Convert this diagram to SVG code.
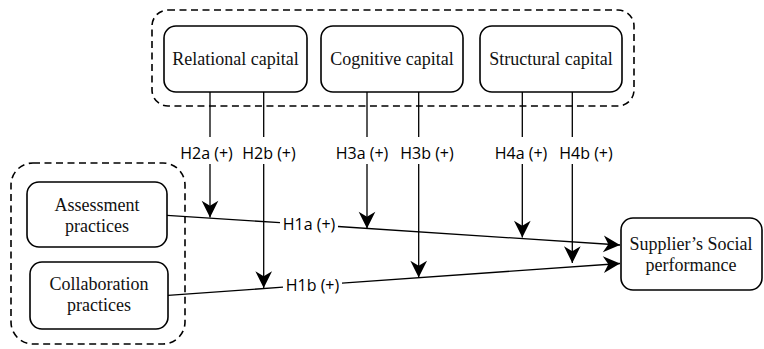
<svg xmlns="http://www.w3.org/2000/svg" width="764" height="349" viewBox="0 0 764 349">
<style>
.box{fill:#fff;stroke:#000;stroke-width:1.6}
.grp{fill:none;stroke:#000;stroke-width:1.6;stroke-dasharray:7,4.5}
.lbl{font-family:'Liberation Serif','Times New Roman','DejaVu Serif',serif;font-size:18px;fill:#111;text-anchor:middle}
.hyp{font-family:'Open Sans','Noto Sans',sans-serif;font-size:16px;fill:#000;text-anchor:middle}
.ln{fill:none;stroke:#000;stroke-width:1.3}
</style>
<defs>
<marker id="arr" markerUnits="userSpaceOnUse" markerWidth="20" markerHeight="20" viewBox="-16 -9 18 18" refX="0" refY="0" orient="auto">
<path d="M0,0 L-15,-7.5 L-10.5,0 L-15,7.5 Z" fill="#000"/>
</marker>
</defs>
<g id="group-capital"><rect class="grp" x="152" y="10" width="482" height="96" rx="16"/></g>
<g id="group-practices"><rect class="grp" x="11" y="163" width="174" height="181" rx="22"/></g>
<g id="relational"><rect class="box" x="164" y="26" width="143" height="66" rx="12"/><text class="lbl" font-family="Liberation Serif, serif" x="235.5" y="65">Relational capital</text></g>
<g id="cognitive"><rect class="box" x="321" y="26" width="142" height="66" rx="12"/><text class="lbl" font-family="Liberation Serif, serif" x="392" y="65">Cognitive capital</text></g>
<g id="structural"><rect class="box" x="480" y="26" width="142" height="66" rx="12"/><text class="lbl" font-family="Liberation Serif, serif" x="551" y="65">Structural capital</text></g>
<g id="assessment"><rect class="box" x="27" y="182" width="140" height="65" rx="12"/><text class="lbl" font-family="Liberation Serif, serif" x="97" y="211">Assessment</text><text class="lbl" font-family="Liberation Serif, serif" x="97" y="232">practices</text></g>
<g id="collaboration"><rect class="box" x="30" y="262" width="138" height="67" rx="12"/><text class="lbl" font-family="Liberation Serif, serif" x="99" y="290">Collaboration</text><text class="lbl" font-family="Liberation Serif, serif" x="99" y="311">practices</text></g>
<g id="supplier"><rect class="box" x="621" y="218" width="141" height="72" rx="12"/><text class="lbl" font-family="Liberation Serif, serif" x="691" y="250">Supplier’s Social</text><text class="lbl" font-family="Liberation Serif, serif" x="691" y="271">performance</text></g>
<g id="connectors">
<path class="ln" d="M167,215.3 L280,222.7"/>
<path class="ln" d="M338,226.5 L620,245" marker-end="url(#arr)"/>
<path class="ln" d="M168,295.3 L283,287.2"/>
<path class="ln" d="M342,283.1 L620,263.5" marker-end="url(#arr)"/>
<path class="ln" d="M210,92 V137 M210,164 V217.5" marker-end="url(#arr)"/>
<path class="ln" d="M263.7,92 V137 M263.7,164 V288" marker-end="url(#arr)"/>
<path class="ln" d="M367,92 V137 M367,164 V228.5" marker-end="url(#arr)"/>
<path class="ln" d="M418.7,92 V137 M418.7,164 V277.5" marker-end="url(#arr)"/>
<path class="ln" d="M522.3,92 V137 M522.3,164 V237.5" marker-end="url(#arr)"/>
<path class="ln" d="M572.3,92 V137 M572.3,164 V263" marker-end="url(#arr)"/>
<text class="hyp" x="206.5" y="158.5">H2a (+)</text>
<text class="hyp" x="269" y="158.5">H2b (+)</text>
<text class="hyp" x="362" y="158.5">H3a (+)</text>
<text class="hyp" x="427" y="158.5">H3b (+)</text>
<text class="hyp" x="521" y="158.5">H4a (+)</text>
<text class="hyp" x="586" y="158.5">H4b (+)</text>
<text class="hyp" x="309" y="230">H1a (+)</text>
<text class="hyp" x="312.5" y="291">H1b (+)</text>
</g>
</svg>
